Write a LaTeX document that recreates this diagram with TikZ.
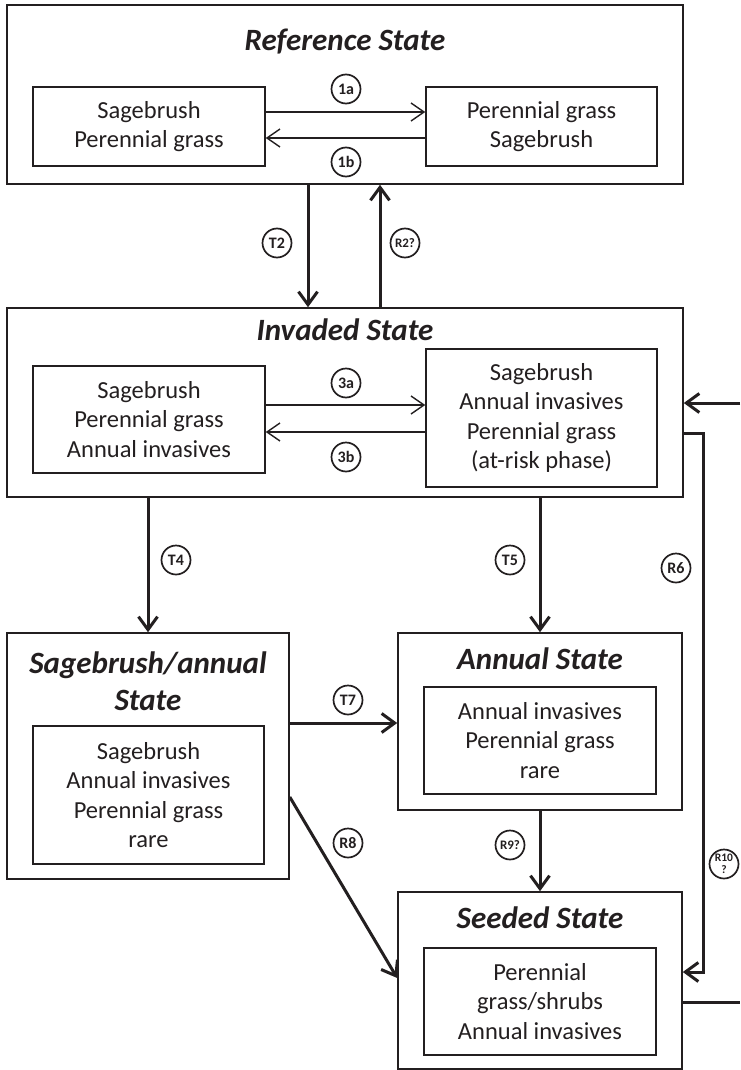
\documentclass[tikz,border=0pt]{standalone}
\usepackage{fontspec}
\setmainfont{Carlito}
\usetikzlibrary{arrows.meta}
\definecolor{ink}{HTML}{231F20}
\newcommand{\stbody}{\fontsize{24.5}{29.5}\selectfont}
\newcommand{\sttitle}{\fontsize{31}{37}\selectfont\bfseries\itshape}
\newcommand{\stlab}{\fontsize{16}{16}\selectfont\bfseries}
\newcommand{\stlabsmall}{\fontsize{13}{13}\selectfont\bfseries}
\newcommand{\stlabtiny}{\fontsize{11.5}{11.5}\selectfont\bfseries}
\begin{document}
\begin{tikzpicture}[x=1pt,y=-1pt,
  outerbox/.style={draw=ink, line width=1.6pt, inner sep=0pt},
  innerbox/.style={draw=ink, line width=1.5pt, inner sep=0pt, align=center, font=\stbody, text=ink},
  titletext/.style={inner sep=0pt, align=center, font=\sttitle, text=ink},
  lab/.style={circle, draw=ink, line width=1.7pt, minimum size=29pt, inner sep=0pt, font=\stlab, text=ink},
  thinarrow/.style={draw=ink, line width=1.4pt, -{Straight Barb[length=13pt,width=18pt]}},
  thickarrow/.style={draw=ink, line width=3pt, -{Straight Barb[length=13pt,width=19pt]}},
  thickline/.style={draw=ink, line width=3pt}]
\path[use as bounding box, fill=white] (0,0) rectangle (740,1070);

% ---- Reference State ----
\node[outerbox, minimum width=676pt, minimum height=179pt] (refS) at (345,94.5) {};
\node[titletext] (refT) at (345,42) {Reference State};
\node[innerbox, minimum width=232pt, minimum height=79pt] (refL) at (149,126.5) {Sagebrush\\Perennial grass};
\node[innerbox, minimum width=231pt, minimum height=79pt] (refR) at (541.5,126.5) {Perennial grass\\Sagebrush};
\draw[thinarrow] (refL.east |- 0,112) -- (refR.west |- 0,112);
\draw[thinarrow] (refR.west |- 0,138) -- (refL.east |- 0,138);
\node[lab] (l1a) at (346,89) {1a};
\node[lab] (l1b) at (346,162) {1b};

% ---- Invaded State ----
\node[outerbox, minimum width=676pt, minimum height=189pt] (invS) at (345,402.5) {};
\node[titletext] (invT) at (345,330) {Invaded State};
\node[innerbox, minimum width=232pt, minimum height=107pt] (invL) at (149,419.5) {Sagebrush\\Perennial grass\\Annual invasives};
\node[innerbox, minimum width=231pt, minimum height=138pt] (invR) at (541.5,418) {Sagebrush\\Annual invasives\\Perennial grass\\(at-risk phase)};
\draw[thinarrow] (invL.east |- 0,405) -- (invR.west |- 0,405);
\draw[thinarrow] (invR.west |- 0,432) -- (invL.east |- 0,432);
\node[lab] (l3a) at (346,383) {3a};
\node[lab] (l3b) at (346,457) {3b};

% ---- Reference <-> Invaded ----
\draw[thickarrow] (refS.south -| 308,0) -- (invS.north -| 308,0);
\draw[thickarrow] (invS.north -| 380,0) -- (refS.south -| 380,0);
\node[lab] (lT2) at (277,243) {T2};
\node[lab, font=\stlabsmall] (lR2) at (405,243) {R2?};

% ---- Sagebrush/annual State ----
\node[outerbox, minimum width=282pt, minimum height=246pt] (saS) at (148,756) {};
\node[titletext] (saT) at (148,681.5) {Sagebrush/annual\\State};
\node[innerbox, minimum width=231pt, minimum height=138pt] (saI) at (148.5,795) {Sagebrush\\Annual invasives\\Perennial grass\\rare};

% ---- Annual State ----
\node[outerbox, minimum width=284pt, minimum height=177pt] (annS) at (540,721.5) {};
\node[titletext] (annT) at (540,659) {Annual State};
\node[innerbox, minimum width=232pt, minimum height=107pt] (annI) at (540,740.5) {Annual invasives\\Perennial grass\\rare};

% ---- Seeded State ----
\node[outerbox, minimum width=284pt, minimum height=177pt] (seedS) at (540,980.5) {};
\node[titletext] (seedT) at (540,918) {Seeded State};
\node[innerbox, minimum width=232pt, minimum height=107pt] (seedI) at (540,1001.5) {Perennial\\grass/shrubs\\Annual invasives};

% ---- Transitions and restorations ----
\draw[thickarrow] (invS.south -| 148,0) -- (saS.north -| 148,0);
\draw[thickarrow] (invS.south -| 540,0) -- (annS.north);
\draw[thickarrow] (saS.east |- 0,723) -- (annS.west |- 0,723);
\draw[thickarrow] (saS.east |- 0,797) -- (seedS.west |- 0,978);
\draw[thickarrow] (annS.south) -- (seedS.north);
\node[lab] (lT4) at (176,560) {T4};
\node[lab] (lT5) at (510,560) {T5};
\node[lab] (lT7) at (348,700) {T7};
\node[lab] (lR8) at (348,843) {R8};
\node[lab, font=\stlabsmall] (lR9) at (510,845) {R9?};

% right-hand track: Invaded -> Seeded
\coordinate (rtrack) at (703,972);
\draw[thickarrow] (invS.east |- 0,433) -| (rtrack) -- (seedS.east |- rtrack);
\node[lab] (lR6) at (676,568) {R6};

% loop leaving Seeded and returning to Invaded
\coordinate (loopin) at (740,403);
\coordinate (loopout) at (740,1002);
\draw[thickarrow] (loopin) -- (invS.east |- loopin);
\draw[thickline] (seedS.east |- loopout) -- (loopout);
\node[lab, font=\stlabtiny, align=center] (lR10) at (724,864) {R10\\?};
\end{tikzpicture}
\end{document}
